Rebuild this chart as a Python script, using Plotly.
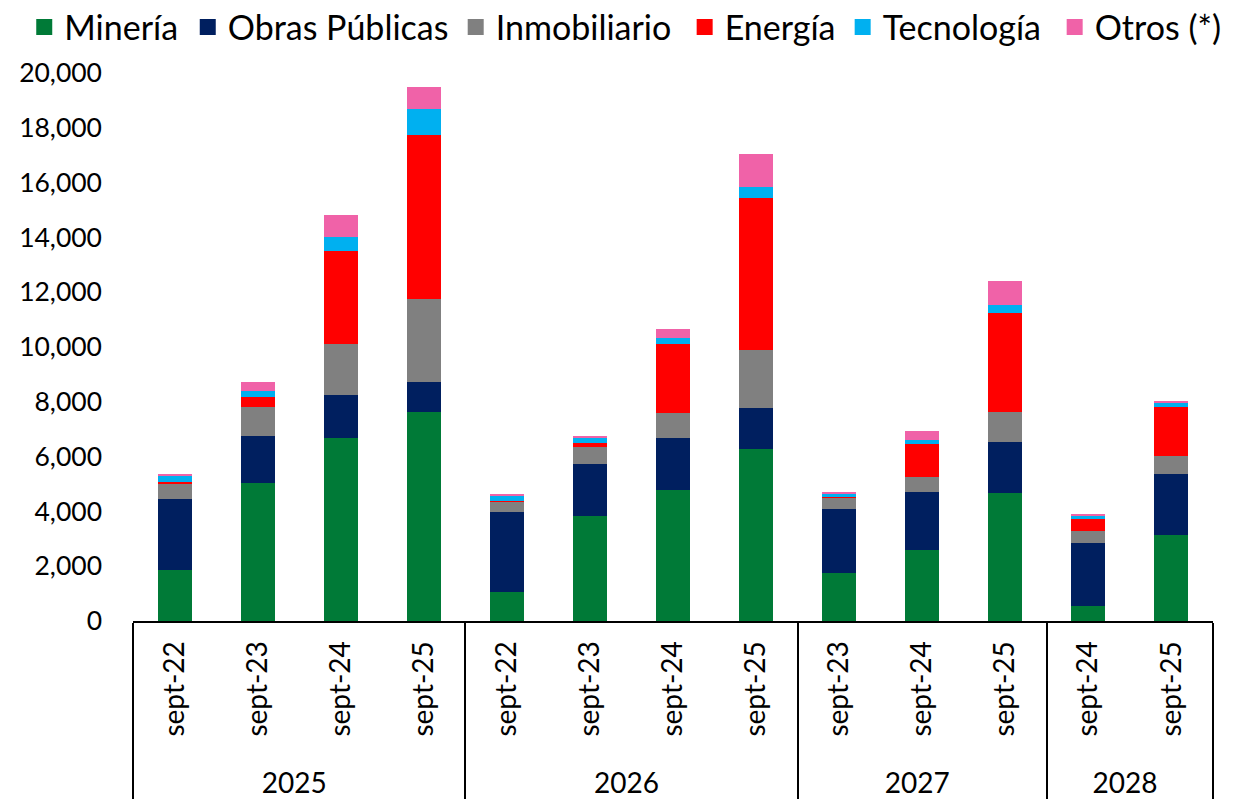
import plotly.graph_objects as go

years = ["2025", "2025", "2025", "2025", "2026", "2026", "2026", "2026",
         "2027", "2027", "2027", "2028", "2028"]
months = ["sept-22", "sept-23", "sept-24", "sept-25", "sept-22", "sept-23", "sept-24", "sept-25",
          "sept-23", "sept-24", "sept-25", "sept-24", "sept-25"]

mineria = [1850, 5050, 6680, 7630, 1050, 3820, 4770, 6270, 1740, 2580, 4660, 540, 3130]
obras = [2610, 1690, 1555, 1105, 2940, 1900, 1920, 1520, 2360, 2140, 1875, 2320, 2250]
inmobiliario = [570, 1065, 1875, 3005, 365, 630, 890, 2105, 415, 535, 1105, 415, 645]
energia = [50, 360, 3400, 5985, 20, 135, 2545, 5525, 20, 1215, 3615, 460, 1775]
tecnologia = [230, 225, 505, 970, 205, 205, 220, 425, 135, 145, 290, 100, 185]
otros = [20, 320, 810, 810, 35, 60, 330, 1215, 25, 315, 850, 35, 50]

series = [
    ("Minería", mineria, "#007A37"),
    ("Obras Públicas", obras, "#001F5F"),
    ("Inmobiliario", inmobiliario, "#808080"),
    ("Energía", energia, "#FF0000"),
    ("Tecnología", tecnologia, "#00B0F0"),
    ("Otros (*)", otros, "#F062A8"),
]

# legend entry positions (paper x), one legend box per series
legend_x = [-0.1007, 0.0507, 0.2988, 0.5108, 0.6571, 0.8534]

FONT = "Lato"
PAD = "\u00a0\u2009"
month_labels = [PAD + m for m in months]

fig = go.Figure()
for name, vals, color in series:
    fig.add_trace(go.Bar(
        x=[years, month_labels], y=vals, name=name, legendgroup=name, showlegend=False,
        marker=dict(color=color, line=dict(width=0)),
    ))

legend_layout = {}
for i, (name, vals, color) in enumerate(series):
    key = "legend" if i == 0 else f"legend{i + 1}"
    fig.add_trace(go.Scatter(
        x=[[years[0]], [month_labels[0]]], y=[None], name=name, legendgroup=name,
        mode="markers", marker=dict(symbol="square", size=21, color=color),
        showlegend=True, hoverinfo="skip", legend=key,
    ))
    legend_layout[key] = dict(
        orientation="h", x=legend_x[i], xanchor="left", y=1.083, yanchor="middle",
        font=dict(family=FONT, size=34, color="black"),
        itemwidth=30, bgcolor="rgba(0,0,0,0)",
    )

fig.update_layout(
    barmode="stack",
    bargap=0.59,
    width=1233, height=799,
    margin=dict(l=133, r=20, t=73, b=178, autoexpand=False),
    plot_bgcolor="white", paper_bgcolor="white",
    font=dict(family=FONT, size=28, color="black"),
    showlegend=True,
    **legend_layout,
)
fig.update_xaxes(
    type="multicategory", range=[-0.5, len(months) - 0.5], autorange=False,
    showline=True, linecolor="black", linewidth=2,
    tickangle=-90, ticks="",
    showdividers=True, dividercolor="black", dividerwidth=1.5,
    tickfont=dict(family=FONT, size=28, color="black"),
    showgrid=False, automargin=False,
    ticklabelstandoff=7,
)
fig.update_yaxes(
    range=[0, 20000], dtick=2000, tickformat=",",
    showgrid=False, zeroline=False, showline=False, ticks="",
    tickfont=dict(family=FONT, size=26.5, color="black"),
    ticklabelstandoff=30, automargin=False,
)

fig.write_html(
    "out.html",
    config={"displayModeBar": False},
    post_script="document.body.style.margin='0';",
)
